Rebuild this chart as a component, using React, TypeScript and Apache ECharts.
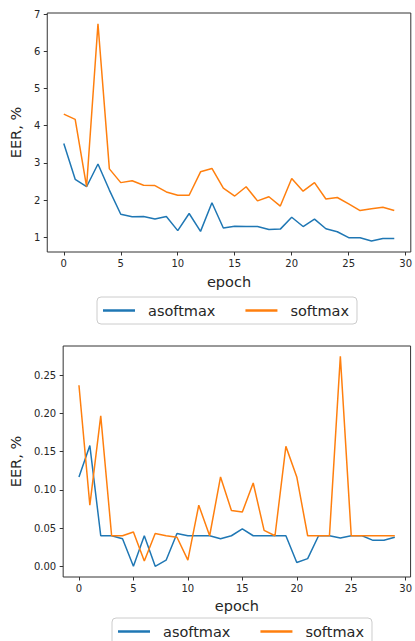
import React, { useEffect, useRef } from "react";
import * as echarts from "echarts";

const epochs = Array.from({ length: 30 }, (_, i) => i);

const top_asoftmax = [3.52, 2.56, 2.36, 2.97, 2.27, 1.62, 1.55, 1.56, 1.49, 1.56, 1.18, 1.64, 1.16, 1.93, 1.25, 1.30, 1.29, 1.29, 1.21, 1.22, 1.54, 1.29, 1.49, 1.23, 1.15, 0.99, 0.99, 0.90, 0.97, 0.97];
const top_softmax = [4.31, 4.17, 2.36, 6.74, 2.84, 2.47, 2.52, 2.40, 2.39, 2.22, 2.13, 2.13, 2.76, 2.85, 2.32, 2.11, 2.36, 1.98, 2.09, 1.84, 2.58, 2.24, 2.47, 2.03, 2.07, 1.90, 1.72, 1.77, 1.81, 1.72];

const bottom_asoftmax = [0.117, 0.158, 0.040, 0.040, 0.036, 0.000, 0.040, 0.000, 0.008, 0.043, 0.040, 0.040, 0.040, 0.036, 0.040, 0.049, 0.040, 0.040, 0.040, 0.040, 0.005, 0.010, 0.040, 0.040, 0.037, 0.040, 0.040, 0.034, 0.034, 0.038];
const bottom_softmax = [0.237, 0.080, 0.197, 0.040, 0.040, 0.045, 0.007, 0.043, 0.040, 0.038, 0.008, 0.080, 0.040, 0.117, 0.073, 0.071, 0.109, 0.047, 0.040, 0.157, 0.117, 0.040, 0.040, 0.040, 0.275, 0.040, 0.040, 0.040, 0.040, 0.040];

const xTicks = [0, 5, 10, 15, 20, 25, 30];
const topYTicks = [1, 2, 3, 4, 5, 6, 7];
const bottomYTicks = [0, 0.05, 0.1, 0.15, 0.2, 0.25];

const seriesNames = ["asoftmax", "softmax"];
const colors = ["#1f77b4", "#ff7f0e"];

const FONT = "DejaVu Sans";
const INK = "#262626";

export default function App() {
  const ref = useRef<HTMLDivElement>(null);

  useEffect(() => {
    document.body.style.margin = "0";
    if (!ref.current) return;
    const chart = echarts.init(ref.current, null, { renderer: "svg" });

    const xAxisBase = (gridIndex: number, gap: number) => ({
      type: "value" as const,
      gridIndex,
      position: "bottom" as const,
      min: -1.45,
      max: 30.45,
      name: "epoch",
      nameLocation: "middle" as const,
      nameGap: gap,
      nameTextStyle: { fontFamily: FONT, fontSize: 14.5, color: INK },
      axisLine: { show: false, onZero: false },
      splitLine: { show: false },
      axisTick: { show: true, length: 3.5, lineStyle: { color: "#333", width: 1 }, customValues: xTicks },
      axisLabel: { fontFamily: FONT, fontSize: 10, color: INK, margin: 6, customValues: xTicks },
    });

    const yAxisBase = (gridIndex: number, min: number, max: number, ticks: number[], gap: number, fmt: (v: number) => string) => ({
      type: "value" as const,
      gridIndex,
      position: "left" as const,
      min,
      max,
      name: "EER, %",
      nameLocation: "middle" as const,
      nameGap: gap,
      nameTextStyle: { fontFamily: FONT, fontSize: 14.5, color: INK },
      axisLine: { show: false, onZero: false },
      splitLine: { show: false },
      axisTick: { show: true, length: 3.5, lineStyle: { color: "#333", width: 1 }, customValues: ticks },
      axisLabel: { fontFamily: FONT, fontSize: 10, color: INK, margin: 7, customValues: ticks, formatter: fmt },
    });

    const mk = (name: string, data: number[], idx: number, color: string) => ({
      type: "line" as const,
      name,
      xAxisIndex: idx,
      yAxisIndex: idx,
      data: epochs.map((e, i) => [e, data[i]]),
      symbol: "none",
      lineStyle: { color, width: 1.5 },
      itemStyle: { color },
      z: name === "softmax" ? 3 : 2,
    });

    const legendBase = (left: number, top: number) => ({
      left,
      top,
      orient: "horizontal" as const,
      data: seriesNames,
      icon: "rect",
      itemWidth: 32,
      itemHeight: 2.5,
      itemGap: 30,
      padding: [6, 8, 6, 6],
      borderColor: "#cccccc",
      borderWidth: 1,
      borderRadius: 4,
      backgroundColor: "rgba(255,255,255,0.8)",
      selectedMode: false,
      textStyle: { fontFamily: FONT, fontSize: 14.5, color: INK, padding: [0, 0, 0, 8] },
    });

    chart.setOption({
      animation: false,
      color: colors,
      grid: [
        { left: 45, top: 13, width: 369.5, height: 239, show: true, borderColor: "#333", borderWidth: 1, containLabel: false },
        { left: 59.5, top: 346, width: 356, height: 231, show: true, borderColor: "#333", borderWidth: 1, containLabel: false },
      ],
      xAxis: [xAxisBase(0, 22), xAxisBase(1, 21)],
      yAxis: [
        yAxisBase(0, 0.605, 7.03, topYTicks, 22, (v: number) => String(v)),
        yAxisBase(1, -0.014, 0.2884, bottomYTicks, 36, (v: number) => v.toFixed(2)),
      ],
      legend: [legendBase(97, 297), legendBase(112, 618)],
      series: [
        mk(seriesNames[0], top_asoftmax, 0, colors[0]),
        mk(seriesNames[1], top_softmax, 0, colors[1]),
        mk(seriesNames[0], bottom_asoftmax, 1, colors[0]),
        mk(seriesNames[1], bottom_softmax, 1, colors[1]),
      ],
    });

    return () => chart.dispose();
  }, []);

  return <div ref={ref} style={{ width: 415, height: 641 }} />;
}
